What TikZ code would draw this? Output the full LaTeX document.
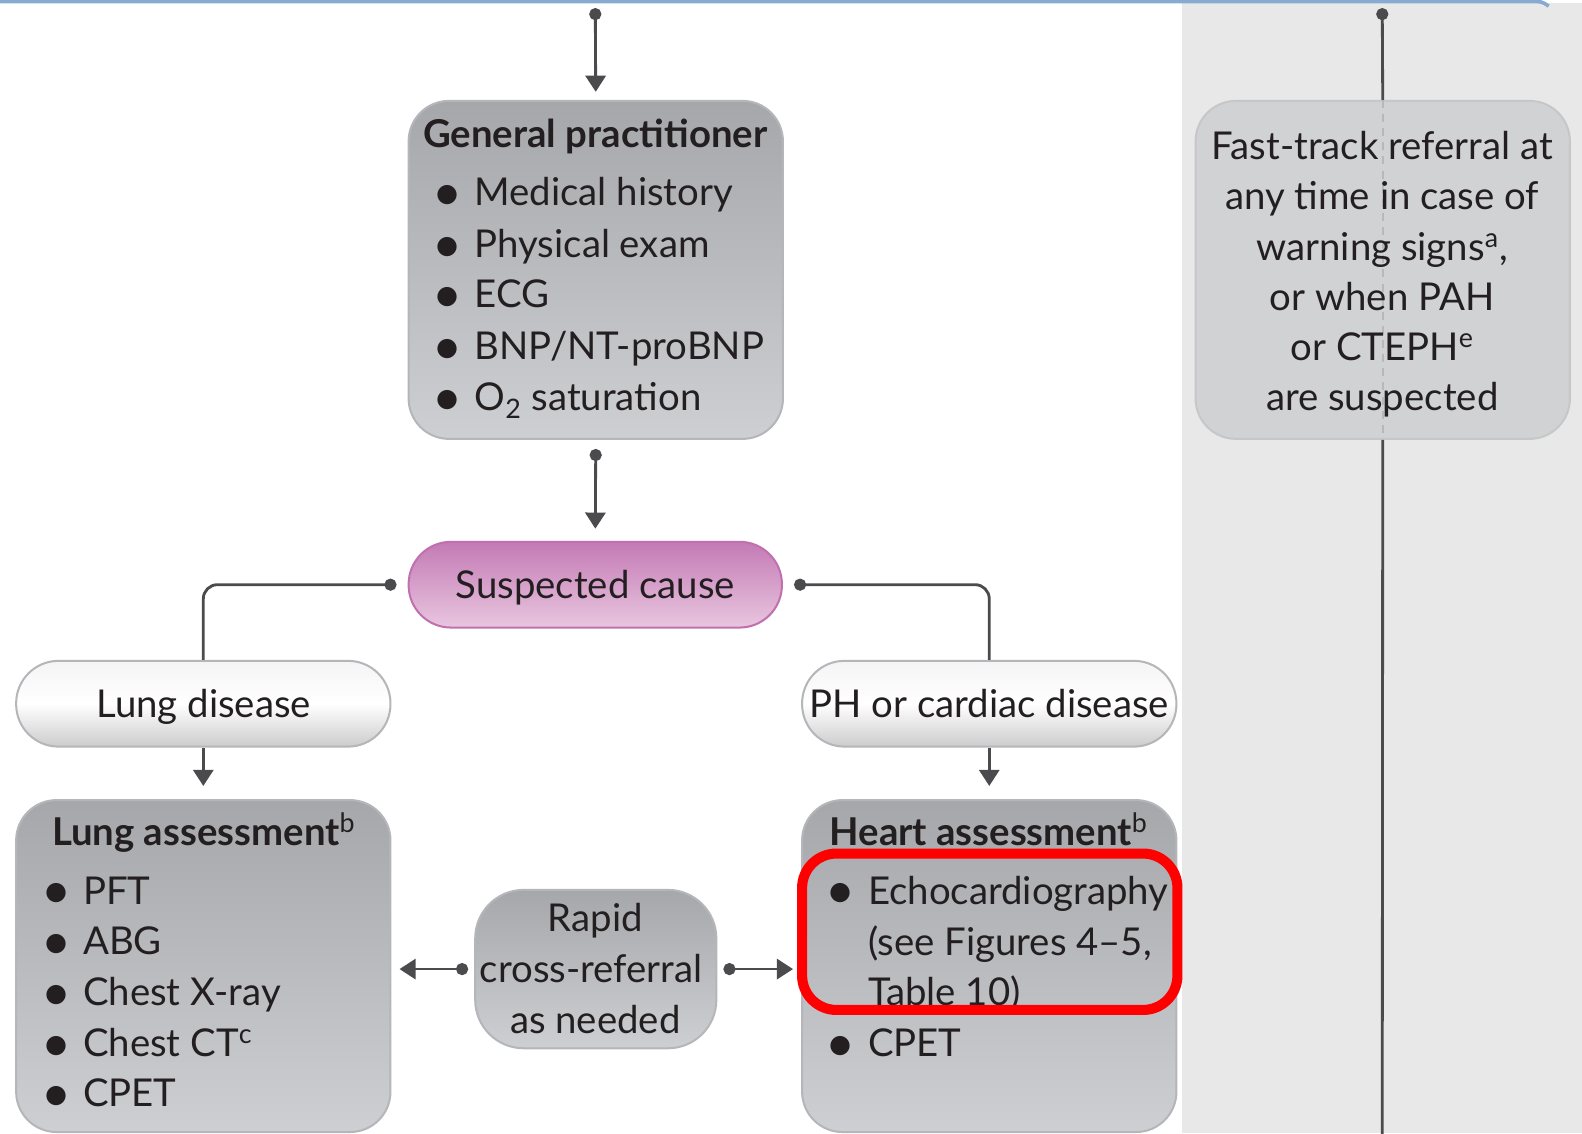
\documentclass[tikz,border=0pt]{standalone}
\usepackage{graphicx}
\usepackage{fontspec}
\setmainfont{Lato}
\usetikzlibrary{arrows.meta}
\definecolor{ink}{HTML}{231F20}
\definecolor{lc}{HTML}{4B4B4E}
\definecolor{gtop}{HTML}{A6A7AB}
\definecolor{gbot}{HTML}{CDCFD3}
\definecolor{gedge}{HTML}{B4B6B9}
\definecolor{ptop}{HTML}{C47AB5}
\definecolor{pbot}{HTML}{E8C6DF}
\definecolor{pedge}{HTML}{C070AF}
\definecolor{panel}{HTML}{E8E8E8}
\definecolor{ftfill}{HTML}{D1D2D4}
\definecolor{ftedge}{HTML}{C6C7C9}
\definecolor{topblue}{HTML}{86AAD2}
\newcommand\bigbul{\raisebox{-2.4pt}{\scalebox{1.35}{\textbullet}}}
\newcommand\itm[2]{\makebox[#1][l]{\hspace{3pt}\makebox[0pt]{\bigbul}}#2}
\tikzset{
  txt/.style={inner sep=0pt, text=ink, font=\fontsize{19}{25}\selectfont},
  ttl/.style={txt, font=\fontsize{19}{25}\selectfont\bfseries},
  graybox/.style={draw=gedge, line width=1pt, top color=gtop, bottom color=gbot,
    rounded corners=20pt, inner sep=0pt},
  pillbox/.style={draw=gedge, line width=1pt, top color=white!96!black, bottom color=white!80!black,
    middle color=white, rounded corners=21pt, inner sep=0pt, minimum width=185.5pt, minimum height=42.5pt},
  conn/.style={draw=lc, line width=1.4pt},
  dotarrow/.style={conn, {Circle[length=6pt]}-{Triangle[width=10pt,length=8pt]}},
  plainarrow/.style={conn, -{Triangle[width=10pt,length=8pt]}},
  dotline/.style={conn, {Circle[length=6pt]}-},
}
\begin{document}
\begin{tikzpicture}[x=0.5pt,y=-0.5pt]
\useasboundingbox (0,0) rectangle (1568,1123);
\clip (0,0) rectangle (1568,1123);
% background panel
\fill[panel] (1172,3) rectangle (1568,1123);
\draw[topblue, line width=1.8pt] (0,1.5) -- (1518,1.5) .. controls (1528,1.5) .. (1535,6);

% boxes
\node[graybox, minimum width=185.5pt, minimum height=167.5pt] (gp) at (590.5,267.5) {};
\node[draw=pedge, line width=1pt, top color=ptop, bottom color=pbot, rounded corners=21pt,
      minimum width=185pt, minimum height=42.5pt, inner sep=0pt] (sc) at (590,579.5) {};
\node[pillbox] (lung) at (201.5,697.5) {};
\node[pillbox] (ph) at (980.5,697.5) {};
\node[graybox, minimum width=185.5pt, minimum height=164.5pt] (la) at (201.5,957.5) {};
\node[graybox, minimum width=185.5pt, minimum height=164.5pt] (ha) at (980.5,957.5) {};
\node[graybox, rounded corners=24pt, minimum width=119.5pt, minimum height=78.5pt] (rp) at (590.5,960.5) {};

% right panel line and fast-track box
\coordinate (ftop) at (1370,8);
\coordinate (fbot) at (1370,1130);
\node[draw=ftedge, line width=1pt, fill=ftfill, rounded corners=20pt, inner sep=0pt,
      minimum width=185.5pt, minimum height=167.5pt] (ft) at (1370.5,267.5) {};
\draw[dotline] (ftop) -- (ft.north);
\draw[conn] (ft.south) -- (fbot);
\draw[draw=white!72!black, line width=1pt, dash pattern=on 4pt off 3pt] (ft.north) -- (ft.south);

% texts: GP
\node[ttl, anchor=base] (gpt) at (590,146) {General practitioner};
\node[txt, anchor=base west] (gp1) at (437,204) {\itm{16.5pt}{Medical history}};
\node[txt, anchor=base west] (gp2) at (437,255) {\itm{16.5pt}{Physical exam}};
\node[txt, anchor=base west] (gp3) at (437,305) {\itm{16.5pt}{ECG}};
\node[txt, anchor=base west] (gp4) at (437,356) {\itm{16.5pt}{BNP/NT-proBNP}};
\node[txt, anchor=base west] (gp5) at (437,407) {\itm{16.5pt}{O\textsubscript{2} saturation}};

\node[txt, anchor=base] (sct) at (590,593) {Suspected cause};
\node[txt, anchor=base] (lungt) at (202,711) {Lung disease};
\node[txt, anchor=base] (pht) at (980.5,711) {PH or cardiac disease};

% lung assessment
\node[ttl, anchor=base] (lat) at (202,838) {Lung assessment\textsuperscript{\mdseries b}};
\node[txt, anchor=base west] (la1) at (50,896) {\itm{16pt}{PFT}};
\node[txt, anchor=base west] (la2) at (50,946) {\itm{16pt}{ABG}};
\node[txt, anchor=base west] (la3) at (50,997) {\itm{16pt}{Chest X-ray}};
\node[txt, anchor=base west] (la4) at (50,1047) {\itm{16pt}{Chest CT\textsuperscript{c}}};
\node[txt, anchor=base west] (la5) at (50,1097) {\itm{16pt}{CPET}};

% heart assessment
\node[ttl, anchor=base] (hat) at (980,838) {Heart assessment\textsuperscript{\mdseries b}};
\node[txt, anchor=base west] (ha1) at (827,896) {\itm{16.5pt}{Echocardiography}};
\node[txt, anchor=base west] (ha2) at (860,947) {(see Figures 4–5,};
\node[txt, anchor=base west] (ha3) at (860,997) {Table 10)};
\node[txt, anchor=base west] (ha4) at (827,1047) {\itm{16.5pt}{CPET}};

% rapid
\node[txt, anchor=base] (rp1) at (590,923) {Rapid};
\node[txt, anchor=base] (rp2) at (586,974) {cross-referral};
\node[txt, anchor=base] (rp3) at (590,1024) {as needed};

% fast-track
\node[txt, anchor=base] (ft1) at (1370,158) {Fast-track referral at};
\node[txt, anchor=base] (ft2) at (1370,208) {any time in case of};
\node[txt, anchor=base] (ft3) at (1370,258) {warning signs\textsuperscript{a},};
\node[txt, anchor=base] (ft4) at (1370,308) {or when PAH};
\node[txt, anchor=base] (ft5) at (1370,357) {or CTEPH\textsuperscript{e}};
\node[txt, anchor=base] (ft6) at (1370,407) {are suspected};

% connectors
\coordinate (gtop) at (590,8);
\draw[dotarrow, shorten >=4pt] (gtop) -- (gp.north);
\draw[dotarrow, shorten <=4.5pt, shorten >=6pt] (gp.south) -- (sc.north);
\draw[dotline, shorten <=5.5pt, rounded corners=7pt] (sc.west) -| (lung.north);
\draw[dotline, shorten <=5.5pt, rounded corners=7pt] (sc.east) -| (ph.north);
\draw[plainarrow, shorten >=6.5pt] (lung.south) -- (la.north);
\draw[plainarrow, shorten >=6.5pt] (ph.south) -- (ha.north);
\draw[dotarrow, shorten <=3pt, shorten >=4pt] (rp.west) -- (la.east |- rp.west);
\draw[dotarrow, shorten <=3pt, shorten >=4pt] (rp.east) -- (ha.west |- rp.east);

% highlight
\node[draw=red, line width=5pt, rounded corners=17pt, inner sep=0pt,
      minimum width=186pt, minimum height=77.5pt] (hl) at (981,923.5) {};
\end{tikzpicture}
\end{document}
